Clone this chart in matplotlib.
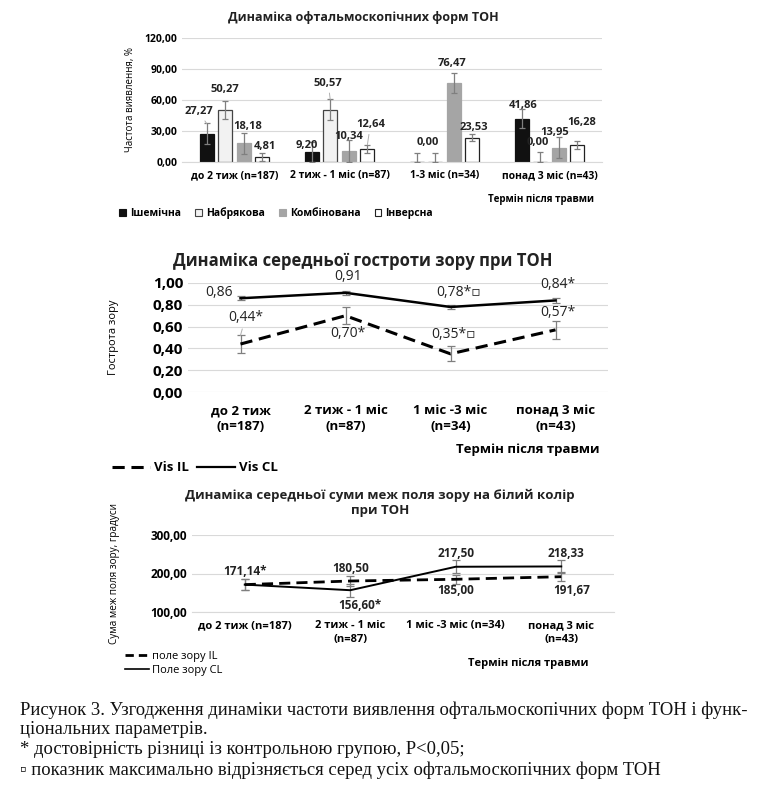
import matplotlib
matplotlib.use("Agg")
import matplotlib.pyplot as plt
from matplotlib.patches import Patch
from matplotlib.lines import Line2D
import numpy as np

# ---------------- data ----------------
periods1 = ["до 2 тиж (n=187)", "2 тиж - 1 міс (n=87)", "1-3 міс (n=34)", "понад 3 міс (n=43)"]
forms = ["Ішемічна", "Набрякова", "Комбінована", "Інверсна"]
ischemic = [27.27, 9.20, 0.00, 41.86]
edematous = [50.27, 50.57, 0.00, 0.00]
combined = [18.18, 10.34, 76.47, 13.95]
inverse = [4.81, 12.64, 23.53, 16.28]
ischemic_err = [10, 10, 9, 9]
edematous_err = [9, 10, 9, 10]
combined_err = [10, 11, 10, 10.5]
inverse_err = [4, 4, 3.5, 4]
yticks1 = [0, 30, 60, 90, 120]

periods2 = ["до 2 тиж\n(n=187)", "2 тиж - 1 міс\n(n=87)", "1 міс -3 міс\n(n=34)", "понад 3 міс\n(n=43)"]
vis_il = [0.44, 0.70, 0.35, 0.57]
vis_cl = [0.86, 0.91, 0.78, 0.84]
vis_il_err = [0.08, 0.08, 0.07, 0.08]
vis_cl_err = [0.02, 0.02, 0.02, 0.02]
vis_il_lbl = ["0,44*", "0,70*", "0,35*▫", "0,57*"]
vis_cl_lbl = ["0,86", "0,91", "0,78*▫", "0,84*"]
yticks2 = [0, 0.2, 0.4, 0.6, 0.8, 1.0]

periods3 = ["до 2 тиж (n=187)", "2 тиж - 1 міс\n(n=87)", "1 міс -3 міс (n=34)", "понад 3 міс\n(n=43)"]
field_il = [171.14, 180.50, 185.00, 191.67]
field_cl = [171.14, 156.60, 217.50, 218.33]
field_il_err = [15, 12, 11, 12]
field_cl_err = [15, 17, 17, 17]
field_il_lbl = ["171,14*", "180,50", "185,00", "191,67"]
field_cl_lbl = ["", "156,60*", "217,50", "218,33"]
yticks3 = [100, 200, 300]

caption = ["Рисунок 3. Узгодження динаміки частоти виявлення офтальмоскопічних форм ТОН і функ-",
           "ціональних параметрів.",
           "* достовірність різниці із контрольною групою, P<0,05;",
           "▫ показник максимально відрізняється серед усіх офтальмоскопічних форм ТОН"]

# ---------------- helpers ----------------
W, H = 768, 789
plt.rcParams['font.family'] = ['Open Sans', 'DejaVu Sans']
fig = plt.figure(figsize=(W / 100, H / 100), dpi=100)

def ax_px(l, t, r, b):
    return fig.add_axes([l / W, 1 - b / H, (r - l) / W, (b - t) / H])

def fmt(v, d=2):
    return f"{v:.{d}f}".replace(".", ",")

def style(ax):
    for s in ["top", "right", "left"]:
        ax.spines[s].set_visible(False)
    ax.spines["bottom"].set_color("#d9d9d9")
    ax.tick_params(axis="both", length=0)
    ax.yaxis.grid(True, color="#d9d9d9", lw=0.8)
    ax.set_axisbelow(True)

def ftext(xp, yp, s, **kw):
    fig.text(xp / W, 1 - yp / H, s, **kw)

GRAY = "#7f7f7f"
TXT = "#222222"
LEADER = dict(arrowstyle="-", color="#b0b0b0", lw=0.7, shrinkA=1, shrinkB=0)

# ---------------- panel 1 ----------------
ax1 = ax_px(182, 38, 602, 162)
style(ax1)
x = np.arange(len(periods1))
step, bw = 0.177, 0.134
series = [ischemic, edematous, combined, inverse]
errs = [ischemic_err, edematous_err, combined_err, inverse_err]
faces = ["#111111", "#f2f2f2", "#a5a5a5", "#ffffff"]
edges = ["#111111", "#444444", "#a5a5a5", "#222222"]
# label offsets (pixels) from top of error bar
lbl_dx = [[-8, -5, 0, 2], [0, -2, -7, -2], [4, 0, -2, -4], [3, 3, 1, 4]]
lbl_dy = [[12, -3, 0, 4], [11, 16, 10, 9], [6, 3, 9, 4], [6, 20, 7, 19]]
leader = [[True, False, False, False], [False, True, False, False],
          [False, False, False, False], [False, True, False, False]]
for j, (vals, e) in enumerate(zip(series, errs)):
    xs = x + (j - 1.5) * step
    ax1.bar(xs, vals, width=bw, color=faces[j], edgecolor=edges[j], lw=0.9, zorder=2)
    lo = [min(v, ee) for v, ee in zip(vals, e)]
    ax1.errorbar(xs, vals, yerr=[lo, e], fmt="none", ecolor=GRAY, elinewidth=0.9,
                 capsize=2.5, capthick=0.9, zorder=3)
    for i, v in enumerate(vals):
        if j == 0 and i == 2:
            continue
        ax1.annotate(fmt(v), (xs[i], v + e[i]), xytext=(lbl_dx[j][i], lbl_dy[j][i]),
                     textcoords="offset pixels", ha="center", va="center",
                     fontsize=8, fontweight="bold", color=TXT, zorder=5,
                     arrowprops=LEADER if leader[j][i] else None)
ax1.set_ylim(0, 120)
ax1.set_xlim(-0.5, 3.5)
ax1.set_yticks(yticks1)
ax1.set_yticklabels([fmt(v) for v in yticks1], fontsize=7.5, fontweight="bold")
ax1.set_xticks(x)
ax1.set_xticklabels(periods1, fontsize=7.5, fontweight="bold")
ax1.tick_params(axis="x", pad=6)
ftext(363, 18, "Динаміка офтальмоскопічних форм ТОН", ha="center", va="center",
      fontsize=9, fontweight="bold", color=TXT)
ax1.set_ylabel("Частота виявлення, %", fontsize=7, labelpad=6)
ftext(594, 199, "Термін після травми", ha="right", va="center", fontsize=7, fontweight="bold")
handles1 = [Patch(facecolor=faces[j], edgecolor=edges[j] if j != 2 else faces[j], lw=0.8)
            for j in range(4)]
fig.legend(handles1, forms, loc="center left", bbox_to_anchor=(110 / W, 1 - 213 / H),
           ncol=4, frameon=False, prop={"weight": "bold", "size": 7.5},
           handlelength=0.6, handleheight=0.6, handletextpad=0.4, columnspacing=1.4)

# ---------------- panel 2 ----------------
ax2 = ax_px(188, 283, 608, 392)
style(ax2)
x2 = np.arange(len(periods2))
ax2.errorbar(x2, vis_il, yerr=vis_il_err, fmt="none", ecolor=GRAY, elinewidth=0.9,
             capsize=3, capthick=0.9, zorder=3)
ax2.errorbar(x2, vis_cl, yerr=vis_cl_err, fmt="none", ecolor=GRAY, elinewidth=0.9,
             capsize=3, capthick=0.9, zorder=3)
ax2.plot(x2, vis_il, color="black", lw=2.2, ls=(0, (4, 2.2)), zorder=4)
ax2.plot(x2, vis_cl, color="black", lw=1.8, zorder=4)
il_off = [(5, 27), (2, -18), (3, 19), (2, 17)]
cl_off = [(-22, 6), (3, 16), (8, 14), (2, 16)]
for i in range(4):
    ax2.annotate(vis_il_lbl[i], (x2[i], vis_il[i] + vis_il_err[i] * (i == 0)), xytext=(il_off[i][0], il_off[i][1] - 9 * (i == 0)),
                 textcoords="offset pixels",
                 ha="center", va="center", fontsize=10, color=TXT, zorder=5,
                 arrowprops=LEADER if i == 0 else None)
    ax2.annotate(vis_cl_lbl[i], (x2[i], vis_cl[i]), xytext=cl_off[i], textcoords="offset pixels",
                 ha="center", va="center", fontsize=10, color=TXT, zorder=5)
ax2.set_ylim(0, 1.0)
ax2.set_xlim(-0.5, 3.5)
ax2.set_yticks(yticks2)
ax2.set_yticklabels([fmt(v) for v in yticks2], fontsize=11, fontweight="bold")
ax2.set_xticks(x2)
ax2.set_xticklabels(periods2, fontsize=9.5, fontweight="bold", linespacing=1.2)
ax2.tick_params(axis="x", pad=9)
ax2.spines["bottom"].set_visible(False)
ftext(363, 261, "Динаміка середньої гостроти зору при ТОН", ha="center", va="center",
      fontsize=12, fontweight="bold", color=TXT)
ax2.set_ylabel("Гострота зору", fontsize=8, labelpad=24)
ftext(600, 450, "Термін після травми", ha="right", va="center", fontsize=9.5, fontweight="bold")
handles2 = [Line2D([], [], color="black", lw=2.2, ls=(0, (4, 2.2))),
            Line2D([], [], color="black", lw=1.6)]
fig.legend(handles2, ["Vis IL", "Vis CL"], loc="center left",
           bbox_to_anchor=(100 / W, 1 - 468 / H), ncol=2, frameon=False,
           prop={"weight": "bold", "size": 9.5}, handlelength=2.9, handletextpad=0.3,
           columnspacing=0.6)

# ---------------- panel 3 ----------------
ax3 = ax_px(192, 535, 614, 612)
style(ax3)
x3 = np.arange(len(periods3))
ax3.errorbar(x3, field_il, yerr=field_il_err, fmt="none", ecolor=GRAY, elinewidth=0.9,
             capsize=3, capthick=0.9, zorder=3)
ax3.errorbar(x3, field_cl, yerr=field_cl_err, fmt="none", ecolor=GRAY, elinewidth=0.9,
             capsize=3, capthick=0.9, zorder=3)
ax3.plot(x3, field_il, color="black", lw=2.0, ls=(0, (4, 2.2)), zorder=4)
ax3.plot(x3, field_cl, color="black", lw=1.4, zorder=4)
f_il_off = [(0, 13), (0, 13), (0, -11), (10, -14)]
f_cl_off = [(0, 0), (10, -15), (0, 13), (5, 13)]
for i in range(4):
    ax3.annotate(field_il_lbl[i], (x3[i], field_il[i]), xytext=f_il_off[i],
                 textcoords="offset pixels", ha="center", va="center",
                 fontsize=8.5, fontweight="bold", color=TXT, zorder=5)
    if field_cl_lbl[i]:
        ax3.annotate(field_cl_lbl[i], (x3[i], field_cl[i]), xytext=f_cl_off[i],
                     textcoords="offset pixels", ha="center", va="center",
                     fontsize=8.5, fontweight="bold", color=TXT, zorder=5)
ax3.set_ylim(100, 300)
ax3.set_xlim(-0.5, 3.5)
ax3.set_yticks(yticks3)
ax3.set_yticklabels([fmt(v) for v in yticks3], fontsize=8.5, fontweight="bold")
ax3.set_xticks(x3)
ax3.set_xticklabels(periods3, fontsize=8, fontweight="bold", va="top", linespacing=1.3)
ax3.tick_params(axis="x", pad=6)
ftext(380, 503, "Динаміка середньої суми меж поля зору на білий колір\nпри ТОН",
      ha="center", va="center", fontsize=9.5, fontweight="bold", linespacing=1.25, color=TXT)
ax3.set_ylabel("Сума меж поля зору, градуси", fontsize=7.2, labelpad=22)
ftext(588, 663, "Термін після травми", ha="right", va="center", fontsize=8, fontweight="bold")
handles3 = [Line2D([], [], color="black", lw=2.0, ls=(0, (3, 1.8))),
            Line2D([], [], color="black", lw=1.2)]
fig.legend(handles3, ["поле зору IL", "Поле зору CL"], loc="upper left",
           bbox_to_anchor=(125 / W, 1 - 651 / H), ncol=1, frameon=False, fontsize=8,
           handlelength=2.2, handletextpad=0.2, labelspacing=0.3, borderaxespad=0,
           borderpad=0)

# ---------------- caption ----------------
cap_y = [710, 730, 750, 770]
for t, yy in zip(caption, cap_y):
    ftext(20, yy, t, ha="left", va="center", fontsize=13.4,
          family=["Liberation Serif", "DejaVu Serif"], color="#111111")

fig.savefig("out.png", dpi=100)
